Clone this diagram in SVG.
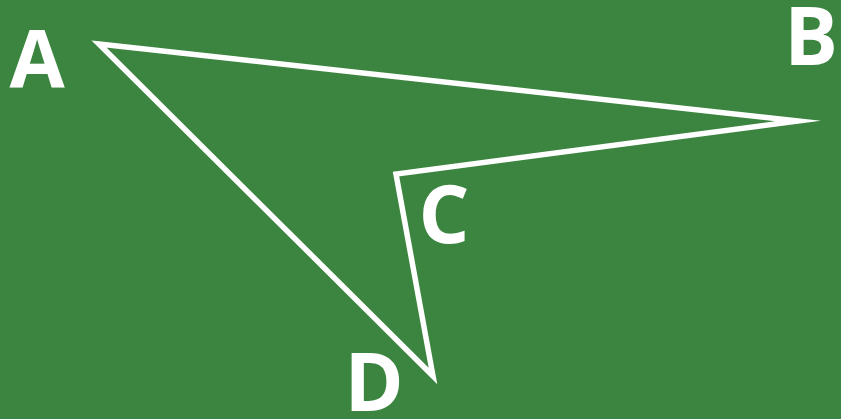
<svg xmlns="http://www.w3.org/2000/svg" width="841" height="419" viewBox="0 0 841 419">
<style>
.lbl{font-family:"Open Sans","Liberation Sans",sans-serif;font-weight:bold;font-size:80px;fill:#ffffff}
</style>
<rect width="841" height="419" fill="#3c8540"/>
<g id="connectors">
<polygon points="99,44 798,121 396,174 433,376" fill="none" stroke="#ffffff" stroke-width="5.5" stroke-linejoin="miter" stroke-miterlimit="20"/>
</g>
<g id="A"><text class="lbl" x="37" y="88" text-anchor="middle">A</text></g>
<g id="B"><text class="lbl" x="811" y="65" text-anchor="middle">B</text></g>
<g id="C"><text class="lbl" x="444" y="243" text-anchor="middle">C</text></g>
<g id="D"><text class="lbl" x="374" y="411" text-anchor="middle">D</text></g>
</svg>
